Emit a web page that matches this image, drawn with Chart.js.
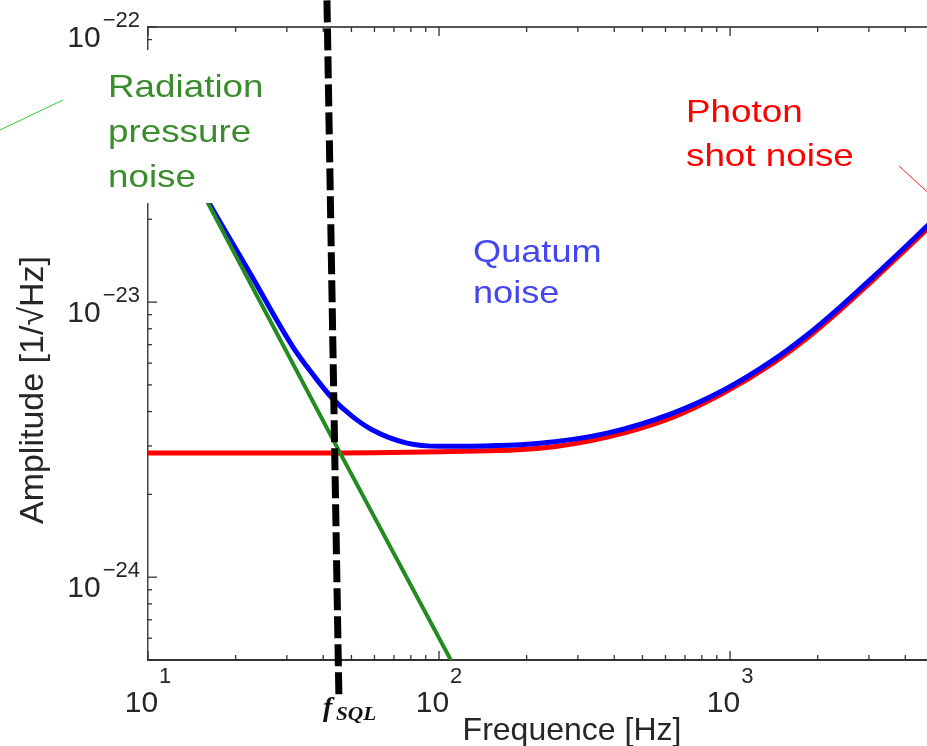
<!DOCTYPE html>
<html>
<head>
<meta charset="utf-8">
<title>Quantum noise</title>
<script src="https://cdn.jsdelivr.net/npm/chart.js@4.4.1/dist/chart.umd.min.js"></script>
<style>
  html, body { margin: 0; padding: 0; background: #fff; overflow: hidden; }
  canvas { display: block; }
</style>
</head>
<body>
<canvas id="noiseChart" width="927" height="746"></canvas>
<script>
// Frequencies in Hz, amplitudes in 1/sqrt(Hz)
const quantumFreq = [15.3, 16.3, 22.4, 31.5, 37.0, 42.9, 50.2, 59.3, 77.6, 100.8, 222, 378, 637, 945, 1405, 1839, 2388, 3100, 4056, 5000];
const quantumAmp = [2.56e-23, 2.27e-23, 1.275e-23, 6.86e-24, 5.43e-24, 4.48e-24, 3.85e-24, 3.42e-24, 3.07e-24, 2.99e-24, 3.07e-24, 3.34e-24, 3.95e-24, 4.77e-24, 6.15e-24, 7.59e-24, 9.59e-24, 1.233e-23, 1.61e-23, 1.99e-23];

const shotFreq = [10, 33.3, 100.8, 222, 378, 637, 945, 1405, 1839, 2388, 3100, 4056, 5000];
const shotAmp = [2.83e-24, 2.83e-24, 2.86e-24, 2.94e-24, 3.23e-24, 3.82e-24, 4.66e-24, 6.0e-24, 7.4e-24, 9.35e-24, 1.202e-23, 1.571e-23, 1.937e-23];

const radFreq = [15.2, 45.7, 115];
const radAmp = [2.56e-23, 2.83e-24, 4.56e-25];

// standard quantum limit marker
const sqlFreq = [41.2, 45.3];
const sqlAmp = [1.25e-22, 3.6e-25];

const xDecades = [10, 100, 1000];
const xExponents = ['1', '2', '3'];
const yDecades = [1e-22, 1e-23, 1e-24];
const yExponents = ['\u221222', '\u221223', '\u221224'];

const xMin = 10, xMax = 4750;
const yMin = 5e-25, yMax = 1e-22;

const SANS = '"Liberation Sans", Arial, sans-serif';
const SERIF = '"Liberation Serif", "DejaVu Serif", serif';

function toPoints(xs, ys) {
    return xs.map((x, i) => ({ x: x, y: ys[i] }));
}

// 1..9 per decade, inside the axis range
function logTicks(decades, lo, hi) {
    const out = [];
    decades.forEach(d => {
        for (let k = 1; k <= 9; k++) {
            const v = d * k;
            if (v >= lo * 0.999 && v <= hi * 1.001) out.push({ value: v, major: k === 1 });
        }
    });
    return out;
}

const xTicks = logTicks(xDecades, xMin, xMax);
const yTicks = logTicks([1e-25].concat(yDecades), yMin, yMax);

function stretchedText(ctx, text, x, y, sx) {
    ctx.save();
    ctx.translate(x, y);
    ctx.scale(sx, 1);
    ctx.fillText(text, 0, 0);
    ctx.restore();
}

const decorations = {
    id: 'decorations',
    afterDatasetsDraw(chart) {
        const { ctx, chartArea: area } = chart;
        const x = chart.scales.x;
        const y = chart.scales.y;
        ctx.save();

        // inward tick marks, bottom/top and left
        ctx.strokeStyle = '#333';
        ctx.lineWidth = 1.3;
        xTicks.forEach(t => {
            const px = x.getPixelForValue(t.value);
            const len = t.major ? 9 : 5;
            ctx.beginPath();
            ctx.moveTo(px, area.bottom);
            ctx.lineTo(px, area.bottom - len);
            ctx.moveTo(px, area.top);
            ctx.lineTo(px, area.top + len);
            ctx.stroke();
        });
        yTicks.forEach(t => {
            const py = y.getPixelForValue(t.value);
            const len = t.major ? 9 : 4;
            ctx.beginPath();
            ctx.moveTo(area.left, py);
            ctx.lineTo(area.left + len, py);
            ctx.stroke();
        });

        // white backing behind the radiation pressure label
        ctx.fillStyle = '#fff';
        ctx.fillRect(63, 50, 240, 153);

        // tick labels: 10 with raised exponent
        ctx.fillStyle = '#262626';
        ctx.textBaseline = 'alphabetic';
        xDecades.forEach((d, i) => {
            const px = x.getPixelForValue(d);
            ctx.font = '30px ' + SANS;
            const wBase = ctx.measureText('10').width;
            ctx.font = '22px ' + SANS;
            const wExp = ctx.measureText(xExponents[i]).width;
            const left = px - (wBase + wExp + 1) / 2;
            ctx.font = '30px ' + SANS;
            ctx.textAlign = 'left';
            ctx.fillText('10', left, area.bottom + 52);
            ctx.font = '22px ' + SANS;
            ctx.fillText(xExponents[i], left + wBase + 1, area.bottom + 23);
        });
        yDecades.forEach((d, i) => {
            const py = y.getPixelForValue(d);
            const right = area.left - 8;
            ctx.textAlign = 'right';
            ctx.font = '22px ' + SANS;
            const wExp = ctx.measureText(yExponents[i]).width;
            ctx.fillText(yExponents[i], right, py);
            ctx.font = '30px ' + SANS;
            ctx.fillText('10', right - wExp - 2, py + 20);
        });

        // axis titles
        ctx.font = '32px ' + SANS;
        ctx.textAlign = 'center';
        ctx.fillText('Frequence [Hz]', 572, 740);
        ctx.save();
        ctx.translate(43, 390);
        ctx.rotate(-Math.PI / 2);
        ctx.font = '34px ' + SANS;
        ctx.fillText('Amplitude [1/\u221AHz]', 0, 0);
        ctx.restore();

        // curve labels
        ctx.textAlign = 'left';
        ctx.font = '32px ' + SANS;
        ctx.fillStyle = '#3a8c2c';
        stretchedText(ctx, 'Radiation', 108, 97, 1.15);
        stretchedText(ctx, 'pressure', 108, 142, 1.15);
        stretchedText(ctx, 'noise', 108, 187, 1.15);

        ctx.fillStyle = '#ff0000';
        stretchedText(ctx, 'Photon', 686, 122, 1.15);
        stretchedText(ctx, 'shot noise', 686, 166, 1.15);

        ctx.fillStyle = '#4646f0';
        stretchedText(ctx, 'Quatum', 473, 262, 1.13);
        stretchedText(ctx, 'noise', 473, 303, 1.13);

        // leader lines
        ctx.lineWidth = 1;
        ctx.strokeStyle = '#2fd22f';
        ctx.beginPath();
        ctx.moveTo(0, 130);
        ctx.lineTo(63, 100);
        ctx.stroke();
        ctx.strokeStyle = '#ff2020';
        ctx.beginPath();
        ctx.moveTo(899, 166);
        ctx.lineTo(935, 199);
        ctx.stroke();

        // f_SQL under the dashed marker
        ctx.fillStyle = '#111';
        ctx.font = 'italic bold 28px ' + SERIF;
        ctx.fillText('f', 323, 716);
        ctx.font = 'italic bold 19px ' + SERIF;
        stretchedText(ctx, 'SQL', 336, 720, 1.12);

        ctx.restore();
    }
};

new Chart(document.getElementById('noiseChart'), {
    type: 'line',
    data: {
        datasets: [
            {
                label: 'SQL',
                data: toPoints(sqlFreq, sqlAmp),
                borderColor: '#000',
                borderWidth: 7,
                borderDash: [22, 6],
                pointRadius: 0,
                clip: false,
                tension: 0
            },
            {
                label: 'Radiation pressure noise',
                data: toPoints(radFreq, radAmp),
                borderColor: '#228b22',
                borderWidth: 4,
                pointRadius: 0,
                tension: 0
            },
            {
                label: 'Quantum noise',
                data: toPoints(quantumFreq, quantumAmp),
                borderColor: '#0000ff',
                borderWidth: 5,
                pointRadius: 0,
                cubicInterpolationMode: 'monotone'
            },
            {
                label: 'Photon shot noise',
                data: toPoints(shotFreq, shotAmp),
                borderColor: '#ff0000',
                borderWidth: 5,
                pointRadius: 0,
                cubicInterpolationMode: 'monotone'
            }
        ]
    },
    options: {
        responsive: false,
        maintainAspectRatio: false,
        devicePixelRatio: 1,
        animation: false,
        layout: { padding: { top: 0, right: 0, bottom: 0, left: 0 } },
        plugins: {
            legend: { display: false },
            tooltip: { enabled: false }
        },
        scales: {
            x: {
                type: 'logarithmic',
                position: 'bottom',
                min: xMin,
                max: xMax,
                grid: { display: false },
                ticks: { display: false },
                border: { display: true, color: '#333', width: 2 },
                afterFit: scale => { scale.height = 86; }
            },
            xTop: {
                type: 'logarithmic',
                position: 'top',
                min: xMin,
                max: xMax,
                grid: { display: false },
                ticks: { display: false },
                border: { display: true, color: '#555', width: 2 },
                afterFit: scale => { scale.height = 27; }
            },
            y: {
                type: 'logarithmic',
                min: yMin,
                max: yMax,
                grid: { display: false },
                ticks: { display: false },
                border: { display: true, color: '#444', width: 1.5 },
                afterFit: scale => { scale.width = 148; }
            }
        }
    },
    plugins: [decorations]
});
</script>
</body>
</html>
